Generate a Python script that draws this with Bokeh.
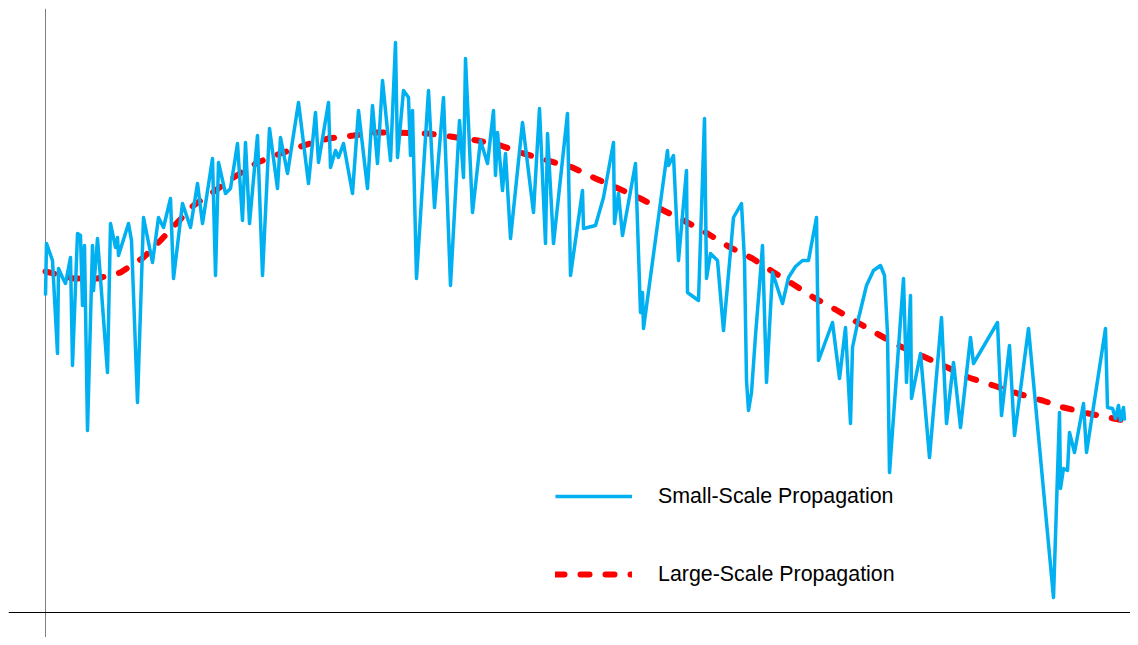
from bokeh.plotting import figure
from bokeh.models import Range1d, Span, Legend, LegendItem
from bokeh.embed import file_html
from bokeh.resources import INLINE

# Small-scale (fast fading) received level
small_x = [0, 1, 7, 12, 13, 17, 20, 25, 27, 32, 35, 37, 39, 42, 47, 48, 52, 62, 65, 70,
           72, 73, 83, 86, 92, 98, 107, 113, 118, 125, 128, 137, 145, 152, 157, 167, 170, 173, 180, 185,
           192, 197, 200, 204, 212, 217, 224, 232, 235, 242, 253, 263, 270, 273, 283, 285, 290, 293, 298, 307,
           313, 322, 327, 332, 337, 345, 350, 352, 358, 363, 365, 367, 371, 383, 389, 398, 405, 414, 418, 420,
           427, 435, 442, 448, 450, 452, 457, 460, 465, 477, 488, 494, 500, 502, 508, 522, 525, 537, 538, 550,
           558, 568, 569, 573, 577, 590, 595, 597, 598, 622, 623, 628, 633, 641, 642, 653, 659, 661, 665, 672, 678,
           688, 696, 699, 701, 703, 706, 710, 714, 717, 721, 727, 737, 743, 750, 757, 763, 771, 773, 787, 794,
           800, 805, 807, 813, 821, 828, 835, 839, 842, 844, 858, 861,
           865, 866, 875, 884, 896, 901, 908, 915, 925, 928, 952, 956, 964, 969, 983, 1008, 1014, 1015, 1018, 1022,
           1024, 1029, 1038, 1041, 1060, 1062, 1067, 1070, 1073, 1075, 1078, 1079]
small_y = [317, 369, 352, 259, 344, 335, 329, 355, 247, 379, 377, 307, 367, 182, 367, 322, 374, 240, 389, 365,
           375, 357, 389, 372, 210, 395, 350, 395, 385, 414, 334, 409, 385, 429, 389, 454, 337, 450, 419, 424,
           469, 392, 470, 389, 477, 337, 484, 424, 475, 439, 510, 429, 500, 450, 510, 445, 462, 455, 469, 419,
           502, 424, 507, 449, 532, 452, 570, 455, 522, 515, 457, 502, 334, 522, 405, 515, 327, 492, 435, 554,
           400, 472, 449, 502, 437, 480, 422, 459, 374, 490, 400, 504, 369, 479, 369, 499, 337, 422, 384, 387,
           415, 470, 389, 419, 377, 449, 300, 320, 284, 462, 447, 457, 352, 442, 320, 312, 494, 334, 359, 352, 282,
           395, 409, 352, 232, 202, 220, 277, 327, 367, 230, 340, 309, 335, 346, 352, 352, 395, 252, 290, 234,
           285, 189, 265, 294, 327, 342, 347, 337, 279, 140, 334, 230,
           317, 214, 259, 155, 295, 189, 250, 185, 275, 249, 290, 197, 267, 177, 284, 15, 200, 124, 144, 142,
           180, 160, 209, 160, 284, 205, 204, 194, 207, 192, 205, 192]

# Large-scale (path loss / shadowing) trend
large_x = [0, 28, 52, 75, 98, 115, 128, 148, 170, 188, 212, 235, 258, 283, 308, 332, 348, 382, 405, 432,
           455, 478, 502, 527, 550, 573, 595, 618, 640, 662, 683, 707, 727, 748, 768, 790, 812, 833, 855, 878,
           902, 923, 948, 972, 997, 1018, 1043, 1068, 1093]
large_y = [341, 334, 334, 340, 355, 372, 386, 407, 422, 435, 450, 459, 467, 474, 477, 480, 480, 479, 476, 472,
           467, 459, 452, 445, 434, 424, 414, 402, 391, 379, 366, 354, 341, 328, 315, 303, 290, 278, 266, 256,
           245, 235, 227, 219, 212, 205, 199, 194, 189]

labels = ["Small-Scale Propagation", "Large-Scale Propagation"]

p = figure(width=1130, height=637, output_backend="svg", toolbar_location=None,
           x_range=Range1d(-37, 1085), y_range=Range1d(-25, 604),
           x_axis_type=None, y_axis_type=None,
           min_border_left=8, min_border_top=8, min_border_right=0, min_border_bottom=0)
p.outline_line_color = None
p.background_fill_color = "white"

p.add_layout(Span(location=0, dimension="height", line_color="#7f7f7f", line_width=1, level="underlay"))
p.add_layout(Span(location=0, dimension="width", line_color="black", line_width=1, level="underlay"))

red = p.line(large_x, large_y, line_color="#FF0000", line_width=6, line_dash="9 16", line_cap="round")
blue = p.line(small_x, small_y, line_color="#00B0F0", line_width=3.5, line_join="round")

legend = Legend(items=[LegendItem(label=labels[0], renderers=[blue]),
                       LegendItem(label=labels[1], renderers=[red])],
                location=(547, 43), padding=0, margin=0,
                glyph_width=77, glyph_height=40, label_height=40, spacing=38, label_standoff=26,
                border_line_alpha=0, background_fill_alpha=0,
                label_text_font="Liberation Sans", label_text_font_size="21.4px",
                label_text_color="black")
p.add_layout(legend)

open("out.html", "w").write(file_html(p, INLINE))
